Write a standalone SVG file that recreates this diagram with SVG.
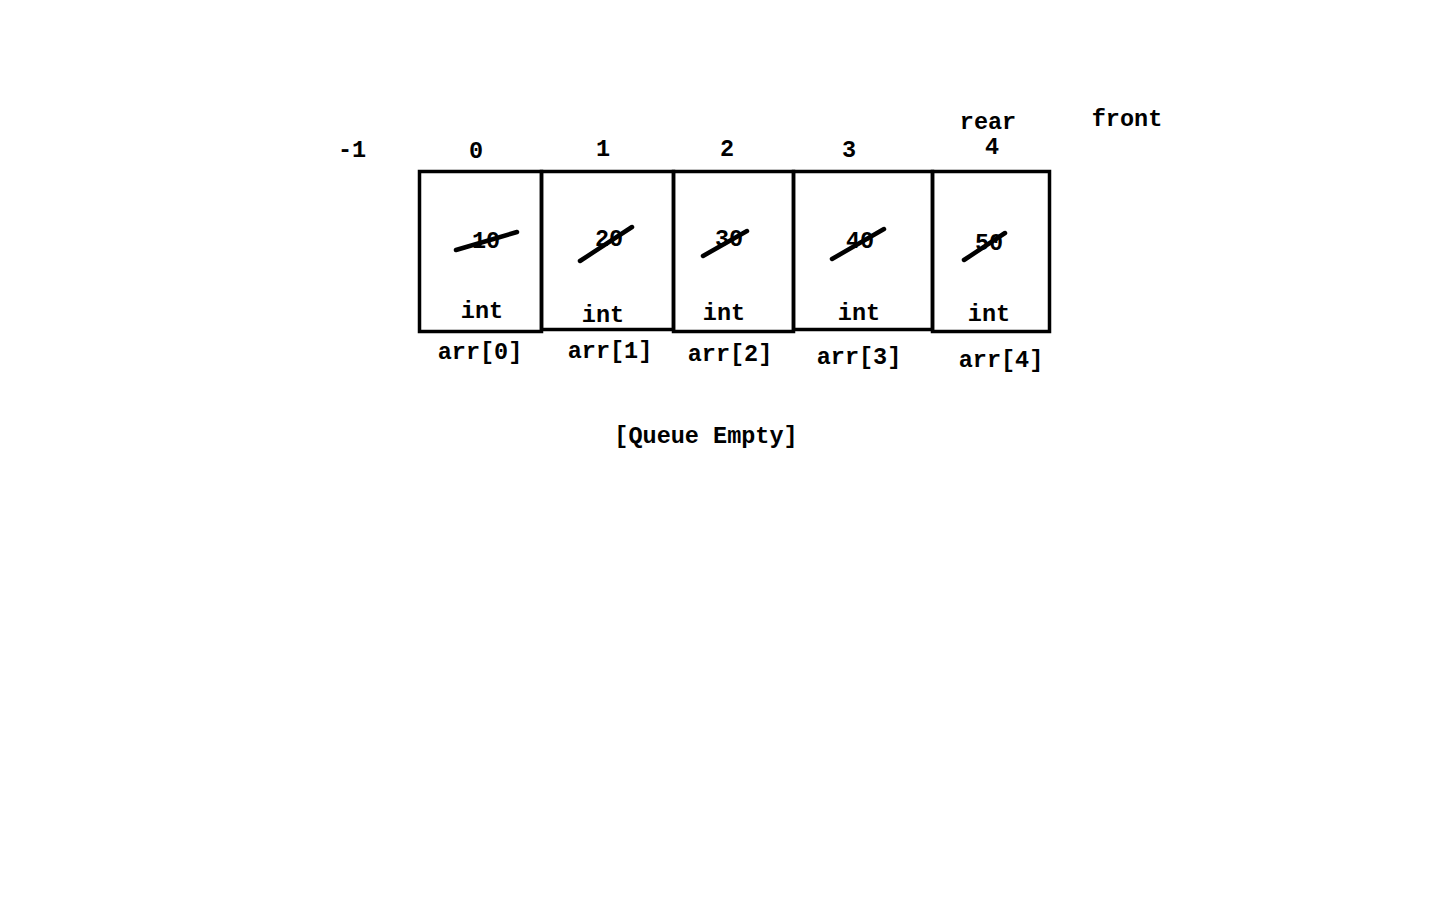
<svg xmlns="http://www.w3.org/2000/svg" width="1440" height="900" viewBox="0 0 1440 900">
<style>
text{font-family:"Liberation Mono","Courier New",monospace;font-weight:bold;font-size:23.5px;fill:#000;text-anchor:middle}
.cell{fill:none;stroke:#000;stroke-width:3.5}
.strike{stroke:#000;stroke-width:4.5;stroke-linecap:round;fill:none}
</style>
<rect width="1440" height="900" fill="#fff"/>
<g id="indices">
<text x="352" y="157">-1</text>
<text x="476" y="158">0</text>
<text x="603" y="156">1</text>
<text x="727" y="156">2</text>
<text x="849" y="157">3</text>
<text x="988" y="129">rear</text>
<text x="992" y="154">4</text>
<text x="1127" y="126">front</text>
</g>
<g id="cell0">
<rect class="cell" x="419.5" y="171.5" width="122" height="160"/>
<text x="486" y="248">10</text>
<path class="strike" d="M456 250 L517 232"/>
<text x="482" y="318">int</text>
<text x="480" y="359">arr[0]</text>
</g>
<g id="cell1">
<rect class="cell" x="541.5" y="171.5" width="132" height="158"/>
<text x="609" y="246">20</text>
<path class="strike" d="M580 261 L632 227"/>
<text x="603" y="322">int</text>
<text x="610" y="358">arr[1]</text>
</g>
<g id="cell2">
<rect class="cell" x="673.5" y="171.5" width="120" height="160"/>
<text x="729" y="246">30</text>
<path class="strike" d="M703 256 L747 231"/>
<text x="724" y="320">int</text>
<text x="730" y="361">arr[2]</text>
</g>
<g id="cell3">
<rect class="cell" x="793.5" y="171.5" width="139" height="158"/>
<text x="860" y="248">40</text>
<path class="strike" d="M832 259 L884 229"/>
<text x="859" y="320">int</text>
<text x="859" y="364">arr[3]</text>
</g>
<g id="cell4">
<rect class="cell" x="932.5" y="171.5" width="117" height="160"/>
<text x="989" y="250">50</text>
<path class="strike" d="M964 260 L1005 233"/>
<text x="989" y="321">int</text>
<text x="1001" y="367">arr[4]</text>
</g>
<g id="connectors"></g>
<g id="status">
<text x="706" y="443">[Queue Empty]</text>
</g>
</svg>
